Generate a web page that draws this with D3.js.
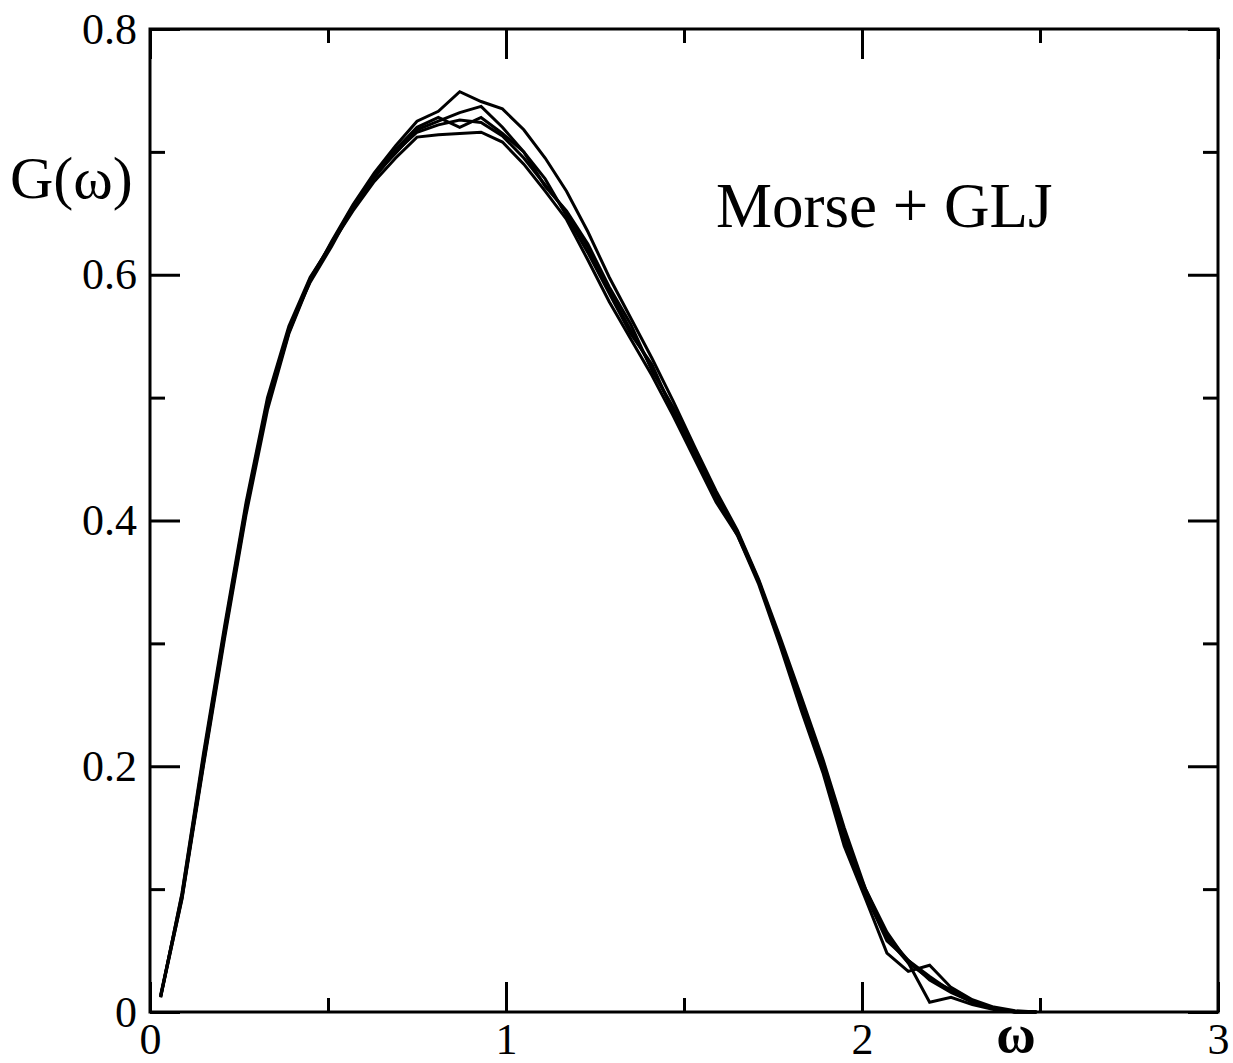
<!DOCTYPE html>
<html>
<head>
<meta charset="utf-8">
<script src="https://cdn.jsdelivr.net/npm/d3@7"></script>
<style>
	body { margin: 0; background: #fff; }
	svg text { font-family: "Liberation Serif", "Times New Roman", serif; fill: #000; }
	.axis path { display: none; }
	.axis line { stroke: #000; stroke-width: 3; }
</style>
</head>
<body>
<div id="chart"></div>
<script>
// frequency grid (omega) shared by every run
var omega = [0.03, 0.09, 0.15, 0.21, 0.27, 0.33, 0.39, 0.45, 0.51, 0.57,
	0.63, 0.69, 0.75, 0.81, 0.87, 0.93, 0.99, 1.05, 1.11, 1.17,
	1.23, 1.29, 1.35, 1.41, 1.47, 1.53, 1.59, 1.65, 1.71, 1.77,
	1.83, 1.89, 1.95, 2.01, 2.07, 2.13, 2.19, 2.25, 2.31, 2.37,
	2.43, 2.49];

// G(omega)
var run1 = [0.013, 0.092, 0.200, 0.305, 0.405, 0.490, 0.552, 0.595, 0.627, 0.657,
	0.683, 0.705, 0.725, 0.733, 0.749, 0.741, 0.735, 0.718, 0.695, 0.668,
	0.635, 0.598, 0.565, 0.532, 0.497, 0.460, 0.424, 0.392, 0.352, 0.305,
	0.256, 0.206, 0.150, 0.100, 0.062, 0.042, 0.029, 0.017, 0.008, 0.003,
	0.000, 0.000];
var run2 = [0.012, 0.097, 0.210, 0.315, 0.415, 0.500, 0.558, 0.598, 0.625, 0.652,
	0.676, 0.695, 0.712, 0.714, 0.715, 0.716, 0.708, 0.690, 0.668, 0.645,
	0.612, 0.578, 0.548, 0.518, 0.485, 0.450, 0.415, 0.388, 0.348, 0.298,
	0.245, 0.195, 0.135, 0.092, 0.048, 0.033, 0.038, 0.020, 0.010, 0.004,
	0.001, 0.000];
var run3 = [0.014, 0.094, 0.202, 0.308, 0.408, 0.495, 0.556, 0.594, 0.623, 0.655,
	0.680, 0.702, 0.720, 0.728, 0.720, 0.728, 0.715, 0.700, 0.672, 0.652,
	0.625, 0.590, 0.560, 0.522, 0.492, 0.457, 0.418, 0.390, 0.350, 0.302,
	0.250, 0.200, 0.140, 0.100, 0.065, 0.040, 0.008, 0.012, 0.006, 0.002,
	0.000, 0.000];
var run4 = [0.013, 0.096, 0.207, 0.312, 0.412, 0.497, 0.555, 0.597, 0.626, 0.656,
	0.681, 0.699, 0.718, 0.725, 0.732, 0.737, 0.720, 0.700, 0.678, 0.648,
	0.618, 0.585, 0.552, 0.527, 0.488, 0.452, 0.420, 0.388, 0.350, 0.300,
	0.250, 0.198, 0.145, 0.096, 0.058, 0.042, 0.026, 0.016, 0.008, 0.003,
	0.000, 0.000];
var run5 = [0.012, 0.093, 0.203, 0.310, 0.410, 0.494, 0.553, 0.596, 0.625, 0.654,
	0.679, 0.700, 0.716, 0.722, 0.726, 0.724, 0.713, 0.695, 0.673, 0.651,
	0.622, 0.587, 0.555, 0.524, 0.490, 0.455, 0.421, 0.391, 0.351, 0.301,
	0.252, 0.203, 0.140, 0.095, 0.060, 0.040, 0.027, 0.018, 0.009, 0.003,
	0.000, 0.000];

var runs = [run1, run2, run3, run4, run5];

// ticks
var xMajor = [0, 1, 2, 3];
var xMinor = [0.5, 1.5, 2.5];
var yMajor = [0, 0.2, 0.4, 0.6, 0.8];
var yMinor = [0.1, 0.3, 0.5, 0.7];
var xTickLabels = ["0", "1", "2", "3"];
var yTickLabels = ["0", "0.2", "0.4", "0.6", "0.8"];

var W = 1233, H = 1063;
var plotLeft = 150, plotRight = 1218, plotTop = 29, plotBottom = 1012;

var svg = d3.select("#chart")
	.append("svg")
	.attr("width", W)
	.attr("height", H);

var x = d3.scaleLinear().domain([0, 3]).range([plotLeft, plotRight]);
var y = d3.scaleLinear().domain([0, 0.8]).range([plotBottom, plotTop]);

function drawAxis(axis, tx, ty, cls) {
	return svg.append("g")
		.attr("class", "axis " + cls)
		.attr("transform", "translate(" + tx + "," + ty + ")")
		.call(axis);
}

// major ticks (inward) with labels on bottom and left
drawAxis(d3.axisBottom(x).tickValues(xMajor).tickSize(-30).tickPadding(11)
	.tickFormat(function(d, i) { return xTickLabels[i]; }), 0, plotBottom, "xb");
drawAxis(d3.axisBottom(x).tickValues(xMinor).tickSize(-14).tickFormat(""), 0, plotBottom, "xbm");
drawAxis(d3.axisTop(x).tickValues(xMajor).tickSize(-30).tickFormat(""), 0, plotTop, "xt");
drawAxis(d3.axisTop(x).tickValues(xMinor).tickSize(-14).tickFormat(""), 0, plotTop, "xtm");

drawAxis(d3.axisLeft(y).tickValues(yMajor).tickSize(-30).tickPadding(13)
	.tickFormat(function(d, i) { return yTickLabels[i]; }), plotLeft, 0, "yl");
drawAxis(d3.axisLeft(y).tickValues(yMinor).tickSize(-15).tickFormat(""), plotLeft, 0, "ylm");
drawAxis(d3.axisRight(y).tickValues(yMajor).tickSize(-30).tickFormat(""), plotRight, 0, "yr");
drawAxis(d3.axisRight(y).tickValues(yMinor).tickSize(-15).tickFormat(""), plotRight, 0, "yrm");

svg.selectAll(".axis text")
	.style("font-size", "44px")
	.style("font-family", '"Liberation Serif", "Times New Roman", serif');

// frame
svg.append("rect")
	.attr("x", plotLeft)
	.attr("y", plotTop)
	.attr("width", plotRight - plotLeft)
	.attr("height", plotBottom - plotTop)
	.style("fill", "none")
	.style("stroke", "#000")
	.style("stroke-width", 3);

// curves
var line = d3.line()
	.x(function(d, i) { return x(omega[i]); })
	.y(function(d) { return y(d); });

svg.selectAll(".run")
	.data(runs)
	.enter().append("path")
	.attr("class", "run")
	.attr("d", line)
	.style("fill", "none")
	.style("stroke", "#000")
	.style("stroke-width", 3)
	.style("stroke-linejoin", "miter");

// axis titles
svg.append("text")
	.attr("x", 10)
	.attr("y", 198)
	.style("font-size", "60px")
	.text("G(ω)");

svg.append("text")
	.attr("x", 1016)
	.attr("y", 1052)
	.attr("text-anchor", "middle")
	.style("font-size", "54px")
	.style("font-weight", "bold")
	.text("ω");

// annotation
svg.append("text")
	.attr("x", 716)
	.attr("y", 227)
	.style("font-size", "63px")
	.text("Morse + GLJ");
</script>
</body>
</html>
